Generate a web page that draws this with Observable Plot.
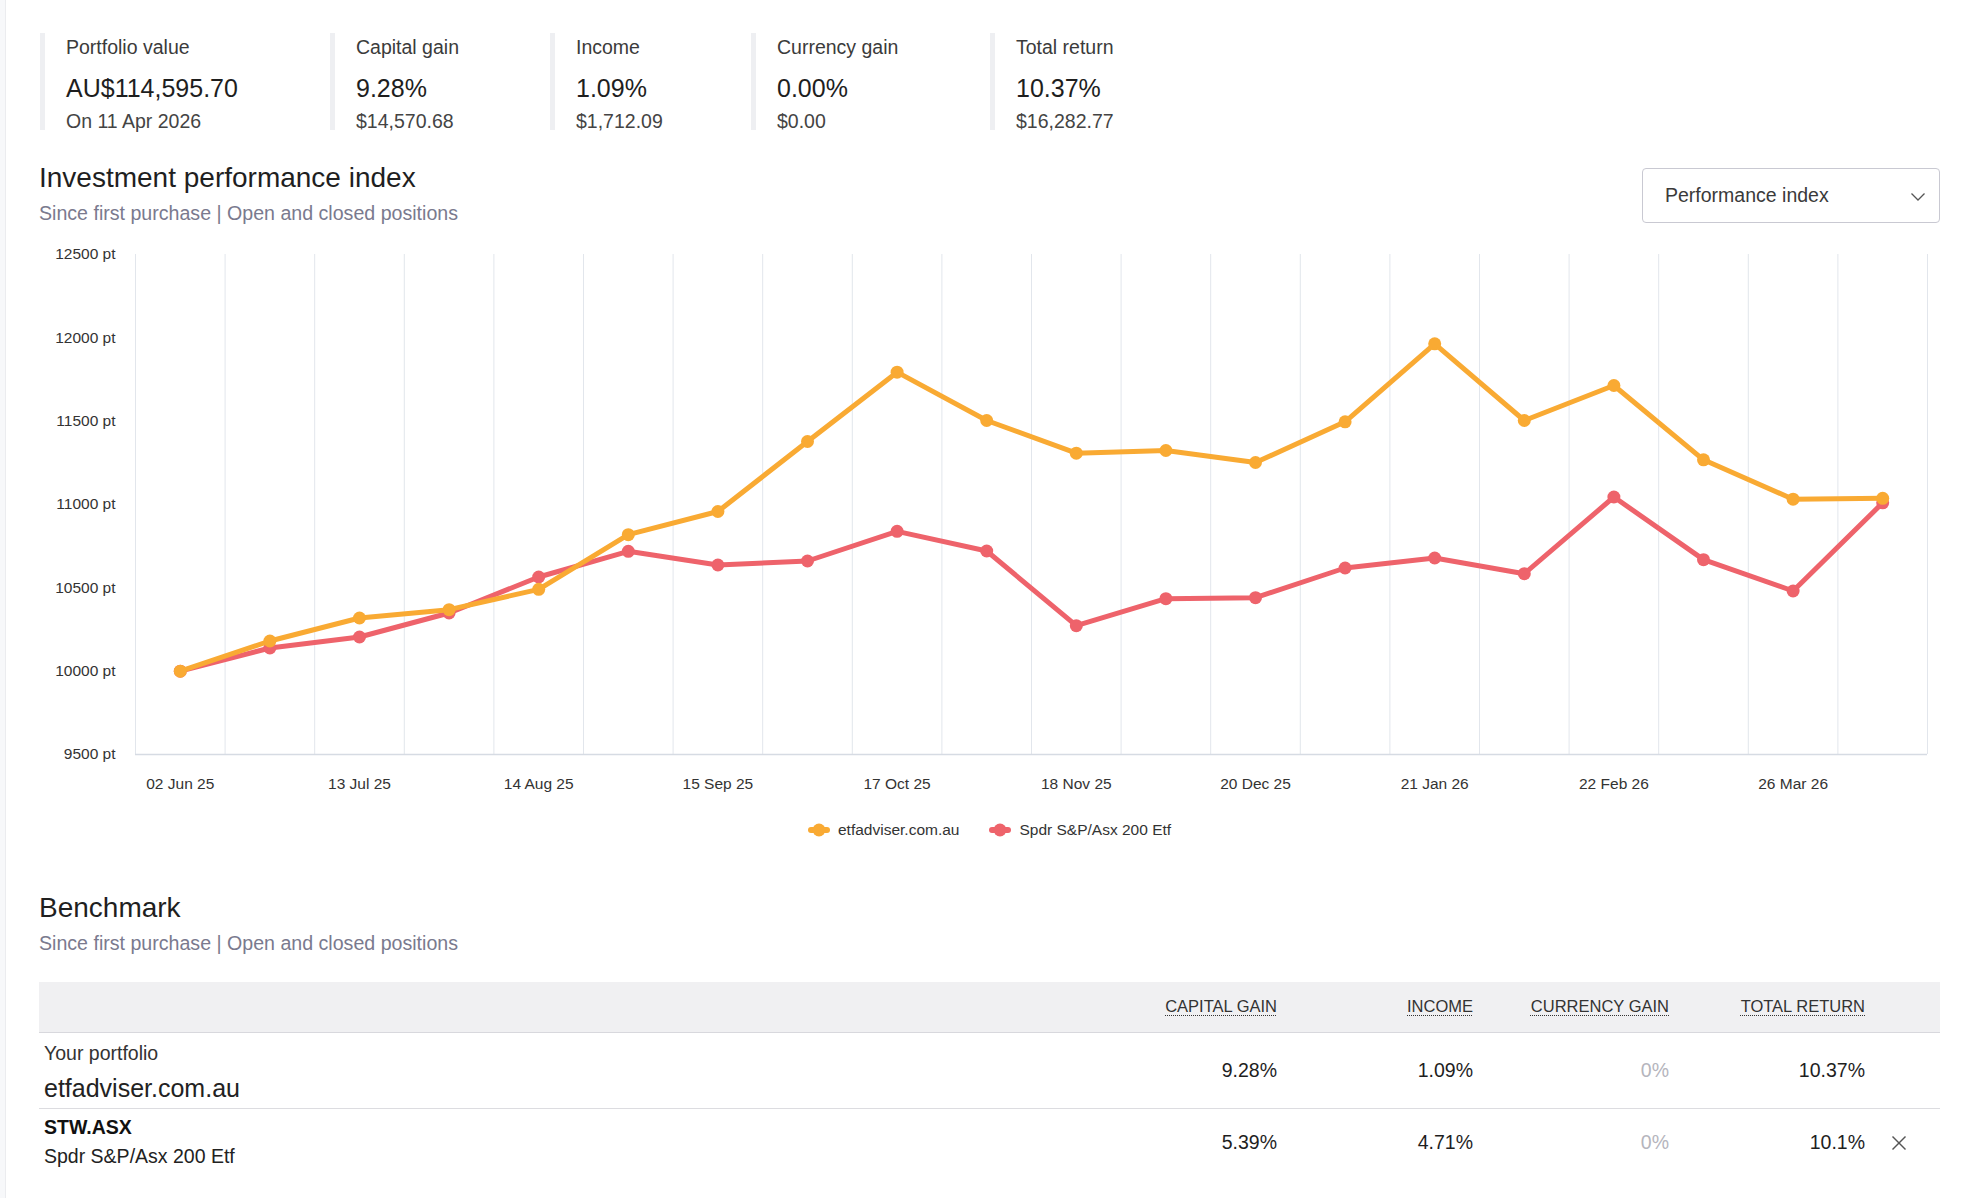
<!DOCTYPE html>
<html>
<head>
<meta charset="utf-8">
<script src="https://cdn.jsdelivr.net/npm/d3@7"></script>
<script src="https://cdn.jsdelivr.net/npm/@observablehq/plot@0.6"></script>
<style>
  html, body { margin: 0; padding: 0; background: #fff; overflow: hidden; }
  #root { position: relative; width: 1975px; height: 1198px; overflow: hidden;
          font-family: "Liberation Sans", Arial, Helvetica, sans-serif; color: #222; }
  .t { position: absolute; line-height: 1; white-space: nowrap; }
  .edge { position: absolute; left: 0; top: 0; width: 5px; height: 1198px; background: #f7f8fa; border-right: 1px solid #ebecef; }
  .kbar { position: absolute; width: 5px; background: #eeeff2; }
  .dropdown { position: absolute; box-sizing: border-box; border: 1px solid #c9c9d2; border-radius: 4px; background: #fff; }
  .band { position: absolute; box-sizing: border-box; background: #f0f0f2; border-bottom: 1px solid #d8d8dd; }
  .hline { position: absolute; height: 1px; background: #dcdce0; }
  .hdr { text-decoration: underline dotted #333; text-decoration-thickness: 1px; text-underline-offset: 3px; }
  .legend { position: absolute; display: flex; align-items: center; font-size: 15.5px; color: #333; }
  .legend .item { display: flex; align-items: center; margin-right: 30px; }
  .legend svg { margin-right: 8px; }
  #chart { position: absolute; left: 0; top: 230px; }
</style>
</head>
<body>
<div id="root"></div>
<script>
// ---------- data ----------
const dates = ["02 Jun 25","27 Jun 25","13 Jul 25","29 Jul 25","14 Aug 25","30 Aug 25","15 Sep 25","01 Oct 25","17 Oct 25","02 Nov 25",
               "18 Nov 25","04 Dec 25","20 Dec 25","05 Jan 26","21 Jan 26","06 Feb 26","22 Feb 26","10 Mar 26","26 Mar 26","11 Apr 26"];
const portfolioIndex = [10000,10181,10319,10369,10491,10819,10958,11378,11794,11504,11308,11324,11252,11496,11964,11504,11714,11268,11032,11037];
const benchmarkIndex = [10000,10139,10205,10349,10565,10719,10637,10661,10839,10721,10273,10435,10441,10619,10679,10585,11045,10669,10481,11010];
const seriesNames = ["etfadviser.com.au", "Spdr S&P/Asx 200 Etf"];
const yTicks = [9500,10000,10500,11000,11500,12000,12500];
const xTickEvery = 2;

const kpiLabels = ["Portfolio value","Capital gain","Income","Currency gain","Total return"];
const kpiValues = ["AU$114,595.70","9.28%","1.09%","0.00%","10.37%"];
const kpiSubs   = ["On 11 Apr 2026","$14,570.68","$1,712.09","$0.00","$16,282.77"];

const tableHeaders = ["CAPITAL GAIN","INCOME","CURRENCY GAIN","TOTAL RETURN"];
const rowPortfolio = ["9.28%","1.09%","0%","10.37%"];
const rowBenchmark = ["5.39%","4.71%","0%","10.1%"];
const benchmarkCode = "STW.ASX";

// ---------- layout helpers ----------
const root = document.getElementById("root");
const colors = ["#f9aa33", "#ee636b"];
function text(str, x, baseline, fs, opts = {}) {
  const d = document.createElement("div");
  d.className = "t" + (opts.cls ? " " + opts.cls : "");
  d.textContent = str;
  d.style.fontSize = fs + "px";
  d.style.top = (baseline - 0.8465 * fs) + "px";
  if (opts.right != null) { d.style.right = (1975 - opts.right) + "px"; d.style.textAlign = "right"; }
  else d.style.left = x + "px";
  if (opts.color) d.style.color = opts.color;
  if (opts.weight) d.style.fontWeight = opts.weight;
  root.appendChild(d);
  return d;
}
function box(cls, l, t, w, h) {
  const d = document.createElement("div");
  d.className = cls;
  Object.assign(d.style, { left: l + "px", top: t + "px", width: w + "px", height: h + "px" });
  root.appendChild(d);
  return d;
}

const edge = document.createElement("div"); edge.className = "edge"; root.appendChild(edge);

// ---------- KPI strip ----------
const kpiX = [66, 356, 576, 777, 1016];
kpiLabels.forEach((lab, i) => {
  box("kbar", kpiX[i] - 26, 33, 5, 97);
  text(lab, kpiX[i], 54.5, 19.5, { color: "#3b3b3b" });
  text(kpiValues[i], kpiX[i], 97, 25, { color: "#1e1e1e" });
  text(kpiSubs[i], kpiX[i], 128.5, 19.5, { color: "#444" });
});

// ---------- chart header ----------
text("Investment performance index", 39, 187.5, 28, { color: "#1f1f1f" });
text("Since first purchase | Open and closed positions", 39, 221, 19.6, { color: "#7a7a8e" });

box("dropdown", 1642, 168, 298, 55);
text("Performance index", 1665, 203, 19.5, { color: "#3a3a3a" });
const chev = document.createElementNS("http://www.w3.org/2000/svg", "svg");
chev.setAttribute("width", "16"); chev.setAttribute("height", "10");
Object.assign(chev.style, { position: "absolute", left: "1910px", top: "192px" });
chev.innerHTML = '<polyline points="1.5,1.5 8,8 14.5,1.5" fill="none" stroke="#555" stroke-width="1.3"/>';
root.appendChild(chev);

// ---------- chart ----------
const idx = dates.map((d, i) => i);
const port = idx.map(i => ({ i, v: portfolioIndex[i] }));
const bench = idx.map(i => ({ i, v: benchmarkIndex[i] }));
const boundaries = idx.concat([dates.length]).map(i => i - 0.5);

const chart = Plot.plot({
  width: 1975,
  height: 570,
  marginLeft: 135,
  marginRight: 48,
  marginTop: 24,
  marginBottom: 46,
  style: { fontFamily: '"Liberation Sans", Arial, sans-serif', fontSize: "15.5px", color: "#333", background: "transparent", overflow: "visible" },
  x: { type: "linear", domain: [-0.5, dates.length - 0.5] },
  y: { domain: [yTicks[0], yTicks[yTicks.length - 1]] },
  marks: [
    Plot.ruleX(boundaries, { stroke: "#e2e6ec", strokeWidth: 1 }),
    Plot.ruleY([yTicks[0]], { stroke: "#d6dbe3", strokeWidth: 1.5 }),
    Plot.axisY({ ticks: yTicks, tickSize: 0, tickPadding: 20, tickFormat: d => `${d} pt`, label: null }),
    Plot.axisX({ ticks: idx.filter(i => i % xTickEvery === 0), tickSize: 0, tickPadding: 23, tickFormat: i => dates[i], label: null }),
    Plot.line(bench, { x: "i", y: "v", stroke: colors[1], strokeWidth: 5, strokeLinejoin: "round" }),
    Plot.dot(bench, { x: "i", y: "v", r: 6.5, fill: colors[1] }),
    Plot.line(port, { x: "i", y: "v", stroke: colors[0], strokeWidth: 5, strokeLinejoin: "round" }),
    Plot.dot(port, { x: "i", y: "v", r: 6.5, fill: colors[0] })
  ]
});
chart.id = "chart";
root.appendChild(chart);

// ---------- legend ----------
const legend = document.createElement("div");
legend.className = "legend";
Object.assign(legend.style, { left: "808px", top: "820px", height: "20px" });
seriesNames.forEach((name, k) => {
  const it = document.createElement("div");
  it.className = "item";
  it.innerHTML = `<svg width="22" height="14"><line x1="3" y1="7" x2="19" y2="7" stroke="${colors[k]}" stroke-width="6" stroke-linecap="round"/><circle cx="11" cy="7" r="6.5" fill="${colors[k]}"/></svg>`;
  const sp = document.createElement("span"); sp.textContent = name; it.appendChild(sp);
  legend.appendChild(it);
});
root.appendChild(legend);

// ---------- benchmark table ----------
text("Benchmark", 39, 918, 28, { color: "#1f1f1f" });
text("Since first purchase | Open and closed positions", 39, 950.5, 19.6, { color: "#7a7a8e" });

box("band", 39, 982, 1901, 51);
const colRight = [1277, 1473, 1669, 1865];
tableHeaders.forEach((h, j) => text(h, 0, 1011.5, 16.5, { right: colRight[j], cls: "hdr", color: "#333" }));

text("Your portfolio", 44, 1060.5, 19.5, { color: "#333" });
text(seriesNames[0], 44, 1097, 25, { color: "#222" });
rowPortfolio.forEach((v, j) => text(v, 0, 1078, 19.5, { right: colRight[j], color: v === "0%" ? "#b5b5bd" : "#1e1e1e" }));
box("hline", 39, 1108, 1901, 1);

text(benchmarkCode, 44, 1135, 19.5, { color: "#111", weight: "bold" });
text(seriesNames[1], 44, 1163.5, 19.5, { color: "#222" });
rowBenchmark.forEach((v, j) => text(v, 0, 1149.5, 19.5, { right: colRight[j], color: v === "0%" ? "#b5b5bd" : "#1e1e1e" }));

const xIcon = document.createElementNS("http://www.w3.org/2000/svg", "svg");
xIcon.setAttribute("width", "16"); xIcon.setAttribute("height", "16");
Object.assign(xIcon.style, { position: "absolute", left: "1891px", top: "1135px" });
xIcon.innerHTML = '<line x1="1.5" y1="1.5" x2="14.5" y2="14.5" stroke="#555" stroke-width="1.4"/><line x1="14.5" y1="1.5" x2="1.5" y2="14.5" stroke="#555" stroke-width="1.4"/>';
root.appendChild(xIcon);
</script>
</body>
</html>
